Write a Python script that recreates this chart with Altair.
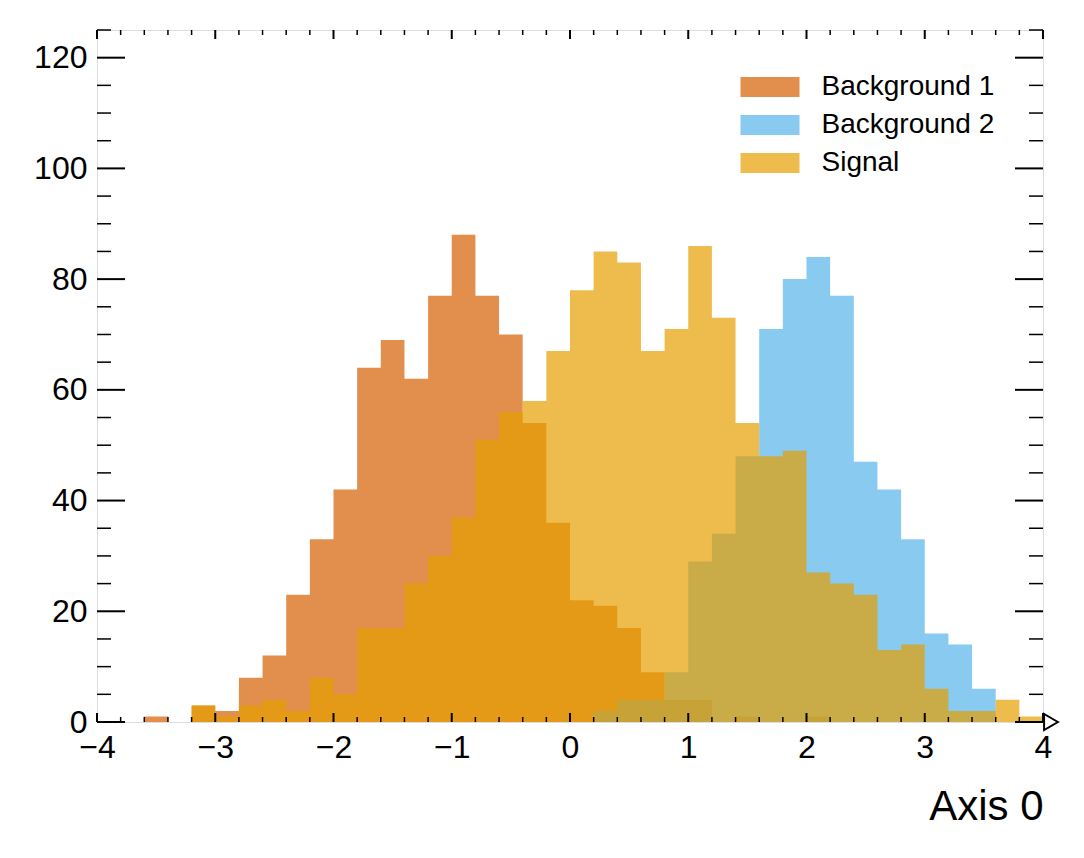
import altair as alt
import pandas as pd

# ---- data (40 bins of width 0.2 from -4 to 4) ----
bin_edges = [round(-4 + 0.2 * i, 1) for i in range(41)]
series_names = ["Background 1", "Background 2", "Signal"]
series_colors = ["#D55E00", "#56B4E9", "#E69F00"]

background1 = [0, 0, 1, 0, 3, 2, 8, 12, 23, 33,
               42, 64, 69, 62, 77, 88, 77, 70, 54, 36,
               22, 21, 17, 9, 4, 4, 0, 1, 0, 0,
               1, 0, 0, 0, 0, 0, 0, 0, 0, 0]
background2 = [0, 0, 0, 0, 0, 0, 0, 0, 0, 0,
               0, 0, 0, 0, 0, 0, 0, 0, 0, 0,
               0, 2, 4, 4, 9, 29, 34, 48, 71, 80,
               84, 77, 47, 42, 33, 16, 14, 6, 0, 0]
signal = [0, 0, 0, 0, 3, 1, 3, 4, 2, 8,
          5, 17, 17, 25, 30, 37, 51, 56, 58, 67,
          78, 85, 83, 67, 71, 86, 73, 54, 48, 49,
          27, 25, 23, 13, 14, 6, 2, 2, 4, 1]

x_major = [-4, -3, -2, -1, 0, 1, 2, 3, 4]
y_major = [0, 20, 40, 60, 80, 100, 120]

# ---- build step-area table ----
rows = []
for name, vals in zip(series_names, [background1, background2, signal]):
    steps = vals + [vals[-1]]
    for e, v in zip(bin_edges, steps):
        rows.append({"series": name, "x": e, "y": v})
hist_df = pd.DataFrame(rows)

x_minor = [e for e in bin_edges if abs(e - round(e)) > 1e-9]
y_minor = [v for v in range(0, 126, 5) if v % 20 != 0]

W, H = 946, 692
FONT = "Liberation Sans"

xscale = alt.Scale(domain=[-4, 4], nice=False, zero=False)
yscale = alt.Scale(domain=[0, 125], nice=False, zero=False)

hist = alt.Chart(hist_df).mark_area(interpolate="step-after", opacity=0.7).encode(
    x=alt.X("x:Q", scale=xscale,
            axis=alt.Axis(values=x_major, format="d", ticks=False, domain=False, grid=False,
                          labelFlush=False, labelPadding=10, labelFontSize=32,
                          title="Axis 0", titleFontSize=42, titleFontWeight="normal",
                          titleAlign="right", titleAnchor="end", titleX=W, titleY=97,
                          titleBaseline="alphabetic")),
    y=alt.Y("y:Q", scale=yscale, stack=None,
            axis=alt.Axis(values=y_major, format="d", ticks=False, domain=False, grid=False,
                          labelFlush=False, labelPadding=10, labelFontSize=32, title=None)),
    color=alt.Color("series:N",
                    scale=alt.Scale(domain=series_names, range=series_colors),
                    legend=alt.Legend(title=None, orient="none", legendX=639.5, legendY=43,
                                      symbolType="M-2.95,-1H2.95V1H-2.95Z", symbolSize=400,
                                      symbolOpacity=0.7, symbolStrokeWidth=0,
                                      symbolOffset=19.5, labelOffset=37.5, labelLimit=400,
                                      labelFontSize=28, labelFont=FONT, labelColor="black",
                                      rowPadding=10)),
)

def tick_df(vals):
    return pd.DataFrame({"v": vals})

xt = alt.X("v:Q", scale=xscale)
yt = alt.Y("v:Q", scale=yscale)

x_major_bot = alt.Chart(tick_df(x_major)).mark_rule(color="black", strokeWidth=2).encode(
    x=xt, y=alt.value(H), y2=alt.value(H - 9))
x_major_top = alt.Chart(tick_df(x_major)).mark_rule(color="black", strokeWidth=2).encode(
    x=xt, y=alt.value(0), y2=alt.value(9))
x_minor_bot = alt.Chart(tick_df(x_minor)).mark_rule(color="black", strokeWidth=1.5).encode(
    x=xt, y=alt.value(H), y2=alt.value(H - 5))
x_minor_top = alt.Chart(tick_df(x_minor)).mark_rule(color="black", strokeWidth=1.5).encode(
    x=xt, y=alt.value(0), y2=alt.value(5))

y_major_l = alt.Chart(tick_df(y_major)).mark_rule(color="black", strokeWidth=2).encode(
    y=yt, x=alt.value(0), x2=alt.value(28))
y_major_r = alt.Chart(tick_df(y_major)).mark_rule(color="black", strokeWidth=2).encode(
    y=yt, x=alt.value(W - 28), x2=alt.value(W))
y_minor_l = alt.Chart(tick_df(y_minor)).mark_rule(color="black", strokeWidth=1.5).encode(
    y=yt, x=alt.value(0), x2=alt.value(14))
y_minor_r = alt.Chart(tick_df(y_minor)).mark_rule(color="black", strokeWidth=1.5).encode(
    y=yt, x=alt.value(W - 14), x2=alt.value(W))

flow = alt.Chart(pd.DataFrame({"v": [4.0], "c": [0]})).mark_point(
    shape="triangle-right", size=256, filled=True, fill="white", stroke="black",
    strokeWidth=2, opacity=1, xOffset=8).encode(
    x=alt.X("v:Q", scale=xscale), y=alt.Y("c:Q", scale=yscale))

chart = alt.layer(
    hist, x_minor_bot, x_minor_top, x_major_bot, x_major_top,
    y_minor_l, y_minor_r, y_major_l, y_major_r, flow
).properties(
    width=W, height=H,
    autosize=alt.AutoSizeParams(type="none"),
    padding={"left": 89, "top": 22, "right": 30, "bottom": 120},
).configure_view(
    stroke="black", strokeWidth=2
).configure_axis(
    labelFont=FONT, titleFont=FONT, labelColor="black", titleColor="black"
).configure(background="white")

chart.save("out.html", embed_options={"renderer": "svg", "actions": False})
